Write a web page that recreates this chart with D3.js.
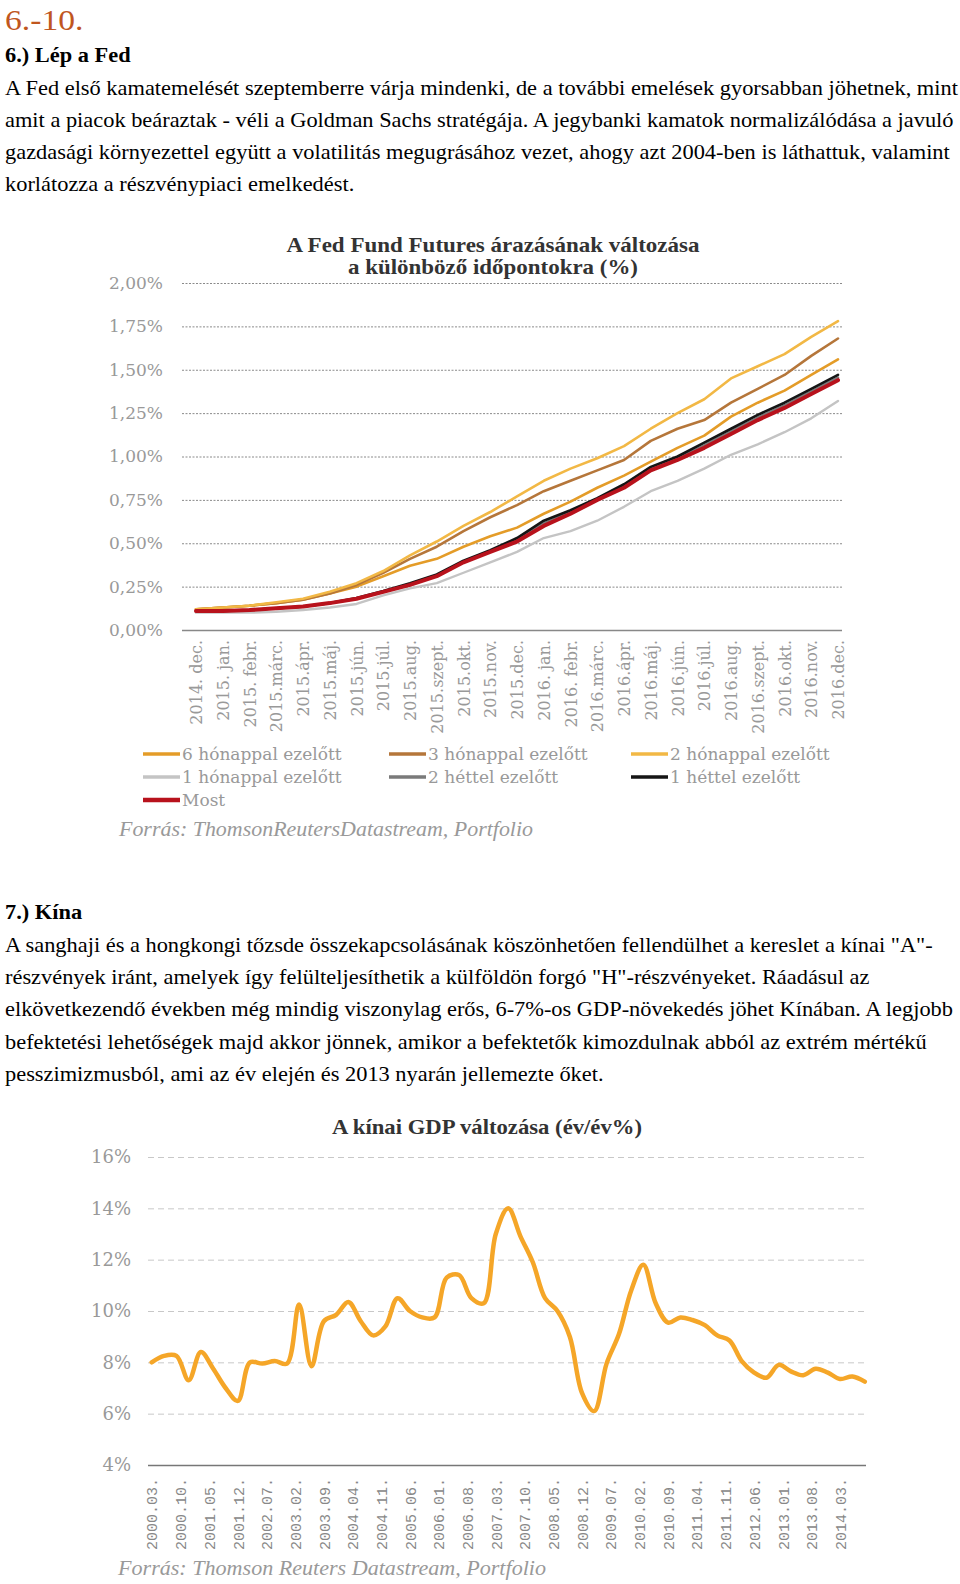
<!DOCTYPE html>
<html>
<head>
    <meta charset="utf-8" />
    <title>6.-10.</title>
    <script src="https://cdn.jsdelivr.net/npm/d3@7"></script>
    <style>
        body { margin: 0; background: #fff; }
        svg { display: block; }
        .txt { font-family: "Liberation Serif", "Times New Roman", serif; font-size: 20px; fill: #000; }
        .head { font-family: "Liberation Serif", "Times New Roman", serif; font-size: 20px; font-weight: bold; fill: #000; }
        .num { font-family: "Liberation Serif", serif; font-size: 30px; fill: #c0561e; }
        .ctitle { font-family: "Liberation Serif", serif; font-size: 21px; font-weight: bold; fill: #333; }
        .tick text { font-family: "DejaVu Serif", serif; fill: #999; }
        .legend text { font-family: "DejaVu Serif", serif; font-size: 17px; fill: #999; }
        .src { font-family: "Liberation Serif", serif; font-style: italic; font-size: 21px; fill: #999; }
    </style>
</head>
<body>
<div id="page"></div>
<script>
    // szöveg
    var introLines = [
        "A Fed első kamatemelését szeptemberre várja mindenki, de a további emelések gyorsabban jöhetnek, mint",
        "amit a piacok beáraztak - véli a Goldman Sachs stratégája. A jegybanki kamatok normalizálódása a javuló",
        "gazdasági környezettel együtt a volatilitás megugrásához vezet, ahogy azt 2004-ben is láthattuk, valamint",
        "korlátozza a részvénypiaci emelkedést."
    ];
    var chinaLines = [
        "A sanghaji és a hongkongi tőzsde összekapcsolásának köszönhetően fellendülhet a kereslet a kínai \"A\"-",
        "részvények iránt, amelyek így felülteljesíthetik a külföldön forgó \"H\"-részvényeket. Ráadásul az",
        "elkövetkezendő években még mindig viszonylag erős, 6-7%-os GDP-növekedés jöhet Kínában. A legjobb",
        "befektetési lehetőségek majd akkor jönnek, amikor a befektetők kimozdulnak abból az extrém mértékű",
        "pesszimizmusból, ami az év elején és 2013 nyarán jellemezte őket."
    ];

    // 1. ábra: Fed Fund Futures
    var fedMonths = ["2014. dec.", "2015. jan.", "2015. febr.", "2015.márc.", "2015.ápr.", "2015.máj.",
        "2015.jún.", "2015.júl.", "2015.aug.", "2015.szept.", "2015.okt.", "2015.nov.", "2015.dec.",
        "2016. jan.", "2016. febr.", "2016.márc.", "2016.ápr.", "2016.máj.", "2016.jún.", "2016.júl.",
        "2016.aug.", "2016.szept.", "2016.okt.", "2016.nov.", "2016.dec."];
    var fedTicks = [0, 0.25, 0.5, 0.75, 1, 1.25, 1.5, 1.75, 2];
    var fed6h = [0.12, 0.13, 0.14, 0.155, 0.175, 0.21, 0.25, 0.31, 0.37, 0.41, 0.48, 0.54, 0.59, 0.67, 0.74, 0.82, 0.89, 0.97, 1.05, 1.12, 1.23, 1.31, 1.38, 1.47, 1.56];
    var fed3h = [0.12, 0.13, 0.14, 0.155, 0.175, 0.21, 0.26, 0.33, 0.41, 0.48, 0.57, 0.65, 0.72, 0.80, 0.86, 0.92, 0.98, 1.09, 1.16, 1.21, 1.31, 1.39, 1.47, 1.58, 1.68];
    var fed2h = [0.12, 0.13, 0.14, 0.16, 0.18, 0.22, 0.27, 0.34, 0.43, 0.51, 0.60, 0.68, 0.77, 0.86, 0.93, 0.99, 1.06, 1.16, 1.25, 1.33, 1.45, 1.52, 1.59, 1.69, 1.78];
    var fed1h = [0.10, 0.10, 0.10, 0.105, 0.115, 0.13, 0.15, 0.20, 0.24, 0.27, 0.33, 0.39, 0.45, 0.53, 0.57, 0.63, 0.71, 0.80, 0.86, 0.93, 1.01, 1.07, 1.14, 1.22, 1.32];
    var fed2w = [0.11, 0.11, 0.115, 0.125, 0.135, 0.155, 0.18, 0.22, 0.265, 0.315, 0.395, 0.455, 0.52, 0.615, 0.68, 0.755, 0.83, 0.93, 0.99, 1.065, 1.145, 1.225, 1.295, 1.375, 1.455];
    var fed1w = [0.11, 0.11, 0.115, 0.125, 0.135, 0.155, 0.185, 0.225, 0.27, 0.32, 0.40, 0.46, 0.53, 0.63, 0.69, 0.76, 0.84, 0.94, 1.00, 1.08, 1.16, 1.24, 1.31, 1.39, 1.47];
    var fedNow = [0.11, 0.11, 0.115, 0.125, 0.135, 0.155, 0.18, 0.22, 0.26, 0.31, 0.39, 0.45, 0.51, 0.60, 0.67, 0.75, 0.82, 0.92, 0.98, 1.05, 1.13, 1.21, 1.28, 1.36, 1.44];
    var fedNames = ["6 hónappal ezelőtt", "3 hónappal ezelőtt", "2 hónappal ezelőtt",
        "1 hónappal ezelőtt", "2 héttel ezelőtt", "1 héttel ezelőtt", "Most"];

    // 2. ábra: kínai GDP (negyedéves)
    var gdpQuarters = ["2000.03", "2000.06", "2000.09", "2000.12", "2001.03", "2001.06", "2001.09", "2001.12",
        "2002.03", "2002.06", "2002.09", "2002.12", "2003.03", "2003.06", "2003.09", "2003.12",
        "2004.03", "2004.06", "2004.09", "2004.12", "2005.03", "2005.06", "2005.09", "2005.12",
        "2006.03", "2006.06", "2006.09", "2006.12", "2007.03", "2007.06", "2007.09", "2007.12",
        "2008.03", "2008.06", "2008.09", "2008.12", "2009.03", "2009.06", "2009.09", "2009.12",
        "2010.03", "2010.06", "2010.09", "2010.12", "2011.03", "2011.06", "2011.09", "2011.12",
        "2012.03", "2012.06", "2012.09", "2012.12", "2013.03", "2013.06", "2013.09", "2013.12",
        "2014.03", "2014.06", "2014.09"];
    var gdpValues = [8.0, 8.25, 8.25, 7.3, 8.4, 7.75, 7.0, 6.5,
        8.0, 7.95, 8.05, 7.95, 10.25, 7.85, 9.6, 9.85,
        10.35, 9.6, 9.05, 9.4, 10.5, 10.0, 9.75, 9.75,
        11.3, 11.4, 10.5, 10.3, 13.0, 14.0, 12.9, 11.9,
        10.5, 10.0, 9.0, 6.8, 6.1, 7.95, 9.1, 10.8,
        11.8, 10.3, 9.55, 9.75, 9.65, 9.45, 9.05, 8.85,
        8.05, 7.6, 7.4, 7.9, 7.65, 7.5, 7.75, 7.6,
        7.35, 7.45, 7.25];
    var gdpTickLabels = ["2000.03", "2000.10", "2001.05", "2001.12", "2002.07", "2003.02", "2003.09",
        "2004.04", "2004.11", "2005.06", "2006.01", "2006.08", "2007.03", "2007.10", "2008.05",
        "2008.12", "2009.07", "2010.02", "2010.09", "2011.04", "2011.11", "2012.06", "2013.01",
        "2013.08", "2014.03"];
    var gdpTicks = [4, 6, 8, 10, 12, 14, 16];

    var svg = d3.select("#page").append("svg").attr("width", 960).attr("height", 1584);

    // szövegblokkok (a forrásban kissé szélesebb betűk)
    var body = svg.append("g").attr("transform", "translate(5,0) scale(1.12,1)");
    body.append("text").attr("class", "num").attr("x", 0).attr("y", 30).text("6.-10.");
    body.append("text").attr("class", "head").attr("x", 0).attr("y", 62).text("6.) Lép a Fed");
    body.selectAll("text.intro").data(introLines).enter().append("text")
        .attr("class", "txt intro").attr("x", 0).attr("y", function (d, i) { return 95 + i * 32; })
        .text(function (d) { return d; });
    body.append("text").attr("class", "head").attr("x", 0).attr("y", 919).text("7.) Kína");
    body.selectAll("text.china").data(chinaLines).enter().append("text")
        .attr("class", "txt china").attr("x", 0).attr("y", function (d, i) { return 952 + i * 32.2; })
        .text(function (d) { return d; });

    // ---- 1. ábra ----
    var fx = d3.scalePoint().domain(fedMonths).range([196, 838]);
    var fy = d3.scaleLinear().domain([0, 2]).range([630, 283]);
    var g1 = svg.append("g");

    g1.append("text").attr("class", "ctitle").attr("x", 493).attr("y", 252)
        .attr("text-anchor", "middle").attr("textLength", 413).attr("lengthAdjust", "spacingAndGlyphs")
        .text("A Fed Fund Futures árazásának változása");
    g1.append("text").attr("class", "ctitle").attr("x", 493).attr("y", 274)
        .attr("text-anchor", "middle").attr("textLength", 290).attr("lengthAdjust", "spacingAndGlyphs")
        .text("a különböző időpontokra (%)");

    var yAxis1 = g1.append("g").attr("transform", "translate(182,0)")
        .call(d3.axisLeft(fy).tickValues(fedTicks).tickSize(-660).tickPadding(19)
            .tickFormat(function (d) { return d3.format(".2f")(d).replace(".", ",") + "%"; }));
    yAxis1.select(".domain").remove();
    yAxis1.selectAll(".tick line").attr("stroke", "#8a8a8a").attr("stroke-dasharray", "2,1.5");
    yAxis1.selectAll(".tick text").style("font-size", "17px");
    yAxis1.selectAll(".tick").filter(function (d) { return d === 0; }).select("line")
        .attr("stroke", "#888").attr("stroke-width", 1.5).attr("stroke-dasharray", null);

    var xAxis1 = g1.append("g").attr("transform", "translate(0,630)")
        .call(d3.axisBottom(fx).tickSize(0));
    xAxis1.select(".domain").remove();
    xAxis1.selectAll(".tick text").attr("transform", "rotate(-90)").attr("x", -10).attr("y", 0)
        .attr("dy", "0.35em").style("text-anchor", "end").style("font-size", "16px");

    var fedSeries = [
        { name: fedNames[3], values: fed1h, color: "#c4c4c4", w: 2.4 },
        { name: fedNames[4], values: fed2w, color: "#7a7a7a", w: 2.4 },
        { name: fedNames[0], values: fed6h, color: "#e49c28", w: 2.6 },
        { name: fedNames[1], values: fed3h, color: "#b5763a", w: 2.6 },
        { name: fedNames[2], values: fed2h, color: "#f2b845", w: 2.6 },
        { name: fedNames[5], values: fed1w, color: "#151515", w: 2.6 },
        { name: fedNames[6], values: fedNow, color: "#b8121c", w: 4 }
    ];
    var line1 = d3.line()
        .x(function (d, i) { return fx(fedMonths[i]); })
        .y(function (d) { return fy(d); });
    g1.selectAll("path.fed").data(fedSeries).enter().append("path")
        .attr("class", "fed").attr("fill", "none")
        .attr("stroke", function (d) { return d.color; })
        .attr("stroke-width", function (d) { return d.w; })
        .attr("stroke-linejoin", "round").attr("stroke-linecap", "round")
        .attr("d", function (d) { return line1(d.values); });

    // jelmagyarázat
    var legendOrder = [2, 3, 4, 0, 1, 5, 6];
    var legCols = [143, 389, 631], legRows = [754, 777, 800];
    var leg = g1.append("g").attr("class", "legend");
    legendOrder.forEach(function (si, k) {
        var s = fedSeries[si], cx = legCols[k % 3], cy = legRows[Math.floor(k / 3)];
        leg.append("line").attr("x1", cx).attr("x2", cx + 37).attr("y1", cy).attr("y2", cy)
            .attr("stroke", s.color).attr("stroke-width", si === 6 ? 4.5 : 3.5);
        leg.append("text").attr("x", cx + 39).attr("y", cy).attr("dy", "0.35em").text(s.name);
    });
    g1.append("text").attr("class", "src").attr("x", 119).attr("y", 836)
        .attr("textLength", 414).attr("lengthAdjust", "spacingAndGlyphs")
        .text("Forrás: ThomsonReutersDatastream, Portfolio");

    // ---- 2. ábra ----
    var parseYM = d3.timeParse("%Y.%m");
    var gx = d3.scaleTime().domain([parseYM("2000.03"), parseYM("2014.03")]).range([151.7, 840]);
    var gy = d3.scaleLinear().domain([4, 16]).range([1465, 1157]);
    var g2 = svg.append("g");

    g2.append("text").attr("class", "ctitle").attr("x", 487).attr("y", 1134)
        .attr("text-anchor", "middle").attr("textLength", 310).attr("lengthAdjust", "spacingAndGlyphs")
        .text("A kínai GDP változása (év/év%)");

    var yAxis2 = g2.append("g").attr("transform", "translate(148,0)")
        .call(d3.axisLeft(gy).tickValues(gdpTicks).tickSize(-718).tickPadding(17)
            .tickFormat(function (d) { return d + "%"; }));
    yAxis2.select(".domain").remove();
    yAxis2.selectAll(".tick line").attr("stroke", "#c8c8c8").attr("stroke-dasharray", "6,4");
    yAxis2.selectAll(".tick text").style("font-size", "18px");
    yAxis2.selectAll(".tick").filter(function (d) { return d === 4; }).select("line")
        .attr("stroke", "#777").attr("stroke-width", 1.5).attr("stroke-dasharray", null);

    var xAxis2 = g2.append("g").attr("transform", "translate(0,1465)")
        .call(d3.axisBottom(gx).tickValues(gdpTickLabels.map(parseYM)).tickSize(0)
            .tickFormat(d3.timeFormat("%Y.%m.")));
    xAxis2.select(".domain").remove();
    xAxis2.selectAll(".tick text").attr("transform", "rotate(-90)").attr("x", -13).attr("y", 0)
        .attr("dy", "0.35em").style("text-anchor", "end")
        .style("font-family", "'Liberation Mono', monospace").style("font-size", "15px").style("fill", "#888");

    var gdpData = gdpQuarters.map(function (q, i) { return { date: parseYM(q), v: gdpValues[i] }; });
    var line2 = d3.line()
        .x(function (d) { return gx(d.date); })
        .y(function (d) { return gy(d.v); })
        .curve(d3.curveCatmullRom.alpha(0.5));
    g2.append("path").datum(gdpData).attr("fill", "none").attr("stroke", "#f5a628")
        .attr("stroke-width", 4.5).attr("stroke-linejoin", "round").attr("stroke-linecap", "round")
        .attr("d", line2);

    g2.append("text").attr("class", "src").attr("x", 118).attr("y", 1575)
        .attr("textLength", 428).attr("lengthAdjust", "spacingAndGlyphs")
        .text("Forrás: Thomson Reuters Datastream, Portfolio");
</script>
</body>
</html>
